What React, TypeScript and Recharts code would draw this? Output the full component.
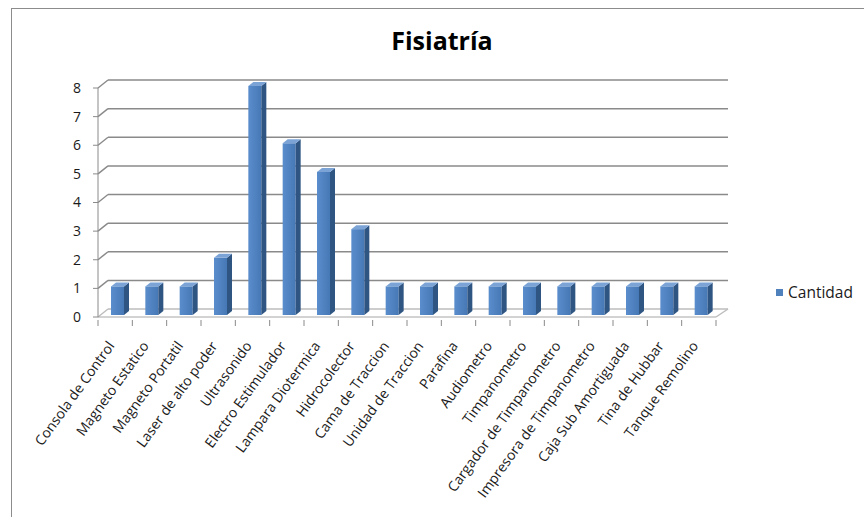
import { BarChart, Bar, XAxis, YAxis, CartesianGrid } from "recharts";

const title = "Fisiatría";
const seriesName = "Cantidad";

const categories = [
  "Consola de Control",
  "Magneto Estatico",
  "Magneto Portatil",
  "Laser de alto poder",
  "Ultrasonido",
  "Electro Estimulador",
  "Lampara Diotermica",
  "Hidrocolector",
  "Cama de Traccion",
  "Unidad de Traccion",
  "Parafina",
  "Audiometro",
  "Timpanometro",
  "Cargador de Timpanometro",
  "Impresora de Timpanometro",
  "Caja Sub Amortiguada",
  "Tina de Hubbar",
  "Tanque Remolino",
];

const cantidad = [1, 1, 1, 2, 8, 6, 5, 3, 1, 1, 1, 1, 1, 1, 1, 1, 1, 1];

const yTicks = [0, 1, 2, 3, 4, 5, 6, 7, 8];

const data = categories.map((name, i) => ({ name, cantidad: cantidad[i] }));

const FONT = "'Open Sans', 'DejaVu Sans', sans-serif";
const WALL_DX = 10;
const WALL_DY = 8;

// 3D-ish column: front face, dark side, light top
function Column3D(props: any) {
  const { x, y, width, height } = props;
  if (!height || height <= 0) return null;
  const fx = x + 2;
  const fy = y - 2;
  const d = 5;
  const u = 4;
  return (
    <g>
      <rect x={fx} y={fy} width={width} height={height} fill="url(#colFront)" />
      <polygon
        points={`${fx + width},${fy} ${fx + width + d},${fy - u} ${fx + width + d},${fy + height - u} ${fx + width},${fy + height}`}
        fill="#2f5583"
      />
      <polygon
        points={`${fx},${fy} ${fx + d},${fy - u} ${fx + width + d},${fy - u} ${fx + width},${fy}`}
        fill="#7ba3d6"
      />
    </g>
  );
}

// gridline drawn on the back wall, with the little diagonal on the side wall
function WallLine(props: any) {
  const { x1, y1, x2, index, y, height } = props;
  const isFloor = y != null && height != null ? Math.abs(y1 - (y + height)) < 1 : index === 0;
  const color = isFloor ? "#bdbdbd" : "#8a8a8a";
  return (
    <g key={`wall-${index}`}>
      <line x1={x1} y1={y1} x2={x1 + WALL_DX} y2={y1 - WALL_DY} stroke={color} strokeWidth={1.5} />
      <line x1={x1 + WALL_DX} y1={y1 - WALL_DY} x2={x2 + 12} y2={y1 - WALL_DY} stroke={color} strokeWidth={1.5} />
      {isFloor && (
        <line x1={x2} y1={y1} x2={x2 + 12} y2={y1 - WALL_DY} stroke={color} strokeWidth={1.5} />
      )}
    </g>
  );
}

function CategoryTick(props: any) {
  const { x, y, payload, index } = props;
  const half = payload?.offset ?? 17.2;
  const last = index === categories.length - 1;
  const tx = x;
  const ty = y + 21;
  return (
    <g>
      <line x1={x - half} y1={y - 5} x2={x - half} y2={y + 1} stroke="#8a8a8a" />
      {last && <line x1={x + half} y1={y - 5} x2={x + half} y2={y + 1} stroke="#8a8a8a" />}
      <text
        x={tx}
        y={ty}
        textAnchor="end"
        fontSize={14}
        fontFamily={FONT}
        fill="#1a1a1a"
        transform={`rotate(-54, ${tx}, ${ty})`}
      >
        {payload.value}
      </text>
    </g>
  );
}

export default function App() {
  return (
    <div
      style={{
        position: "absolute",
        left: 11,
        top: 8,
        width: 853,
        height: 509,
        borderLeft: "1px solid #8c8c8c",
        borderTop: "1px solid #8c8c8c",
        background: "#fff",
        fontFamily: FONT,
      }}
    >
      <div
        style={{
          position: "absolute",
          left: -12,
          width: 884,
          top: 14,
          textAlign: "center",
          fontSize: 25,
          fontWeight: 700,
          color: "#000",
        }}
      >
        {title}
      </div>

      <div style={{ position: "absolute", left: -12, top: -9 }}>
        <BarChart
          width={864}
          height={517}
          data={data}
          margin={{ top: 88, right: 148, bottom: 10, left: 58 }}
          barSize={13}
        >
          <defs>
            <linearGradient id="colFront" x1="0" y1="0" x2="1" y2="0">
              <stop offset="0%" stopColor="#5a8dcc" />
              <stop offset="100%" stopColor="#4778b6" />
            </linearGradient>
          </defs>
          <CartesianGrid vertical={false} horizontal={(p: any) => <WallLine {...p} />} />
          <XAxis
            dataKey="name"
            interval={0}
            height={190}
            tickLine={false}
            axisLine={{ stroke: "#a6a6a6" }}
            tick={<CategoryTick />}
          />
          <YAxis
            width={40}
            domain={[0, 8]}
            ticks={yTicks}
            interval={0}
            tickSize={5}
            tickMargin={12}
            axisLine={{ stroke: "#8a8a8a" }}
            tickLine={{ stroke: "#8a8a8a" }}
            tick={{ fontSize: 14, fill: "#1a1a1a", fontFamily: FONT }}
          />
          <Bar dataKey="cantidad" name={seriesName} shape={<Column3D />} isAnimationActive={false} />
        </BarChart>
      </div>

      <div
        style={{
          position: "absolute",
          left: 764,
          top: 272,
          display: "flex",
          alignItems: "center",
          fontSize: 15.5,
          color: "#1a1a1a",
        }}
      >
        <span style={{ width: 7, height: 7, background: "#4f81bd", marginRight: 5, display: "inline-block" }} />
        {seriesName}
      </div>
    </div>
  );
}
